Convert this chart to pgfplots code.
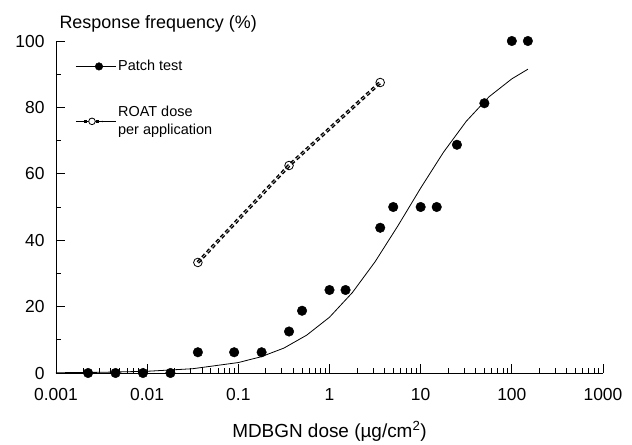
\documentclass[border=0pt]{standalone}
\usepackage{fontspec}
\setmainfont{Liberation Sans}
\usepackage{pgfplots}
\pgfplotsset{compat=1.18}
\begin{document}
\begin{tikzpicture}
\begin{axis}[
  name=ax,
  scale only axis,
  width=547bp, height=332bp,
  xmode=log,
  xmin=0.001, xmax=1000,
  ymin=0, ymax=100,
  axis lines*=left,
  clip=false,
  tick align=inside,
  major tick length=9bp,
  minor tick length=5bp,
  xtick={0.001,0.01,0.1,1,10,100,1000},
  xticklabels={0.001,0.01,0.1,1,10,100,1000},
  ytick={0,20,40,60,80,100},
  minor ytick={10,30,50,70,90},
  /pgf/number format/assume math mode=true,
  tick label style={font=\fontsize{17.5}{20}\selectfont},
  xticklabel style={yshift=-12bp},
  yticklabel style={xshift=-8bp},
  every tick/.style={black, line width=0.8bp},
  axis line style={line width=0.9bp},
  xlabel={MDBGN dose (µg/cm\textsuperscript{2})},
  xlabel style={at={(rel axis cs:0.5,0)}, anchor=base, yshift=-64bp, font=\fontsize{19}{22}\selectfont},
  legend style={at={(rel axis cs:0.030,0.954)}, anchor=north west, draw=none, fill=none,
    font=\fontsize{14.5}{18}\selectfont, row sep=30bp, cells={align=left}},
  legend cell align=left,
]
% fitted curve
\addplot[black, line width=0.8bp, forget plot] coordinates {
(0.001,0.08) (0.00316,0.21) (0.01,0.52) (0.0316,1.29) (0.1,3.15) (0.178,4.9)
(0.316,7.5) (0.562,11.4) (1,16.8) (1.78,24.2) (3.16,33.5) (5.62,44.3) (10,55.7)
(17.8,66.5) (31.6,75.8) (56.2,83.2) (100,88.6) (150,91.5)};
% patch test data
\addplot[only marks, mark=*, mark size=4.8bp, black, forget plot] coordinates {
(0.00225,0) (0.0045,0) (0.009,0) (0.018,0) (0.036,6.25) (0.09,6.25) (0.18,6.25)
(0.36,12.5) (0.5,18.75) (1,25) (1.5,25) (3.6,43.75) (5,50) (10,50) (15,50)
(25,68.75) (50,81.25) (100,100) (150,100)};
% ROAT
\addplot[black, line width=3.4bp, dash pattern=on 4bp off 2.8bp, forget plot] coordinates {
(0.036,33.3) (0.36,62.5) (3.6,87.5)};
\addplot[gray!40, line width=0.6bp, dash pattern=on 4bp off 2.8bp, forget plot] coordinates {
(0.036,33.3) (0.36,62.5) (3.6,87.5)};
\addplot[only marks, mark=o, mark size=4.3bp, black, mark options={line width=0.8bp}, forget plot] coordinates {
(0.036,33.3) (0.36,62.5) (3.6,87.5)};
\addlegendimage{legend image code/.code={
  \path (0bp,0bp) -- (40bp,0bp);
  \draw[black, line width=0.8bp] (0bp,0bp) -- (26bp,0bp);
  \fill[black] (23bp,0bp) circle (3.8bp);}}
\addlegendentry{Patch test}
\addlegendimage{legend image code/.code={
  \path (0bp,0bp) -- (40bp,0bp);
  \draw[black, line width=2.8bp, dash pattern=on 3.5bp off 2.5bp] (8bp,0bp) -- (26bp,0bp);
  \draw[black, line width=0.8bp, fill=white] (16bp,0bp) circle (3.3bp);}}
\addlegendentry{ROAT dose\\per application}
\end{axis}
\node[anchor=base west, font=\fontsize{18}{21}\selectfont] at ([yshift=12bp]ax.north west) {Response frequency (\%)};
\path[use as bounding box] ([xshift=-56bp,yshift=-69bp]ax.south west) rectangle ([xshift=29bp,yshift=41bp]ax.north east);
\end{tikzpicture}
\end{document}
